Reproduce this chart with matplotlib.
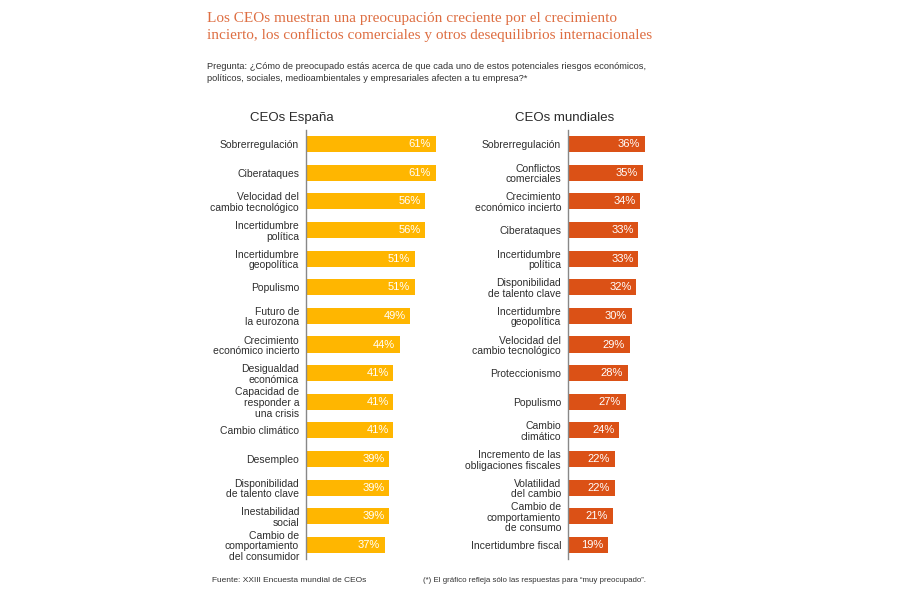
import matplotlib.pyplot as plt

# Data
spain_labels = [
    "Sobrerregulación", "Ciberataques", "Velocidad del\ncambio tecnológico",
    "Incertidumbre\npolítica", "Incertidumbre\ngeopolítica", "Populismo",
    "Futuro de\nla eurozona", "Crecimiento\neconómico incierto",
    "Desigualdad\neconómica", "Capacidad de\nresponder a\nuna crisis",
    "Cambio climático", "Desempleo", "Disponibilidad\nde talento clave",
    "Inestabilidad\nsocial", "Cambio de\ncomportamiento\ndel consumidor",
]
spain_values = [61, 61, 56, 56, 51, 51, 49, 44, 41, 41, 41, 39, 39, 39, 37]

world_labels = [
    "Sobrerregulación", "Conflictos\ncomerciales", "Crecimiento\neconómico incierto",
    "Ciberataques", "Incertidumbre\npolítica", "Disponibilidad\nde talento clave",
    "Incertidumbre\ngeopolítica", "Velocidad del\ncambio tecnológico",
    "Proteccionismo", "Populismo", "Cambio\nclimático",
    "Incremento de las\nobligaciones fiscales", "Volatilidad\ndel cambio",
    "Cambio de\ncomportamiento\nde consumo", "Incertidumbre fiscal",
]
world_values = [36, 35, 34, 33, 33, 32, 30, 29, 28, 27, 24, 22, 22, 21, 19]

W, H = 900, 600
fig = plt.figure(figsize=(9, 6), dpi=100)
plt.rcParams['font.family'] = ['Liberation Sans', 'DejaVu Sans']

px_per_pct = 2.13
top_px, bot_px = 129.7, 559.3


def panel(x0, labels, values, color):
    width_px = 210
    ax = fig.add_axes([x0 / W, 1 - bot_px / H, width_px / W, (bot_px - top_px) / H])
    n = len(values)
    ys = list(range(n))
    ax.barh(ys, values, height=0.56, color=color)
    ax.set_ylim(n - 0.5, -0.5)
    ax.set_xlim(0, width_px / px_per_pct)
    for s in ["top", "right", "bottom"]:
        ax.spines[s].set_visible(False)
    ax.spines["left"].set_color("#888888")
    ax.spines["left"].set_linewidth(1.0)
    ax.set_xticks([])
    ax.set_yticks(ys)
    ax.set_yticklabels(labels, fontsize=7.5, color="#2e2e2e", linespacing=1.08,
                       ha="right")
    ax.tick_params(axis="y", length=0, pad=5)
    for y, v in zip(ys, values):
        ax.text(v - 2.2, y, f"{v}%", ha="right", va="center", fontsize=8,
                color="white")
    return ax


panel(306, spain_labels, spain_values, "#FFB600")
panel(568, world_labels, world_values, "#DB5116")

fig.text(292 / W, 1 - 118 / H, "CEOs España", ha="center", va="center",
         fontsize=9.5, color="#2a2a2a")
fig.text(565 / W, 1 - 118 / H, "CEOs mundiales", ha="center", va="center",
         fontsize=9.5, color="#2a2a2a")

fig.text(207 / W, 1 - 27 / H,
         "Los CEOs muestran una preocupación creciente por el crecimiento\n"
         "incierto, los conflictos comerciales y otros desequilibrios internacionales",
         ha="left", va="center", fontsize=11, color="#DE6E42",
         family=["Liberation Serif", "DejaVu Serif"], linespacing=1.35)

fig.text(207 / W, 1 - 72.5 / H,
         "Pregunta: ¿Cómo de preocupado estás acerca de que cada uno de estos potenciales riesgos económicos,\n"
         "políticos, sociales, medioambientales y empresariales afecten a tu empresa?*",
         ha="left", va="center", fontsize=6.7, color="#333333", linespacing=1.35)

fig.text(212 / W, 1 - 580 / H, "Fuente: XXIII Encuesta mundial de CEOs",
         ha="left", va="center", fontsize=6.0, color="#333333")
fig.text(423 / W, 1 - 580 / H,
         "(*) El gráfico refleja sólo las respuestas para \u201cmuy preocupado\u201d.",
         ha="left", va="center", fontsize=5.7, color="#333333")

fig.savefig("out.png", dpi=100, facecolor="white")
